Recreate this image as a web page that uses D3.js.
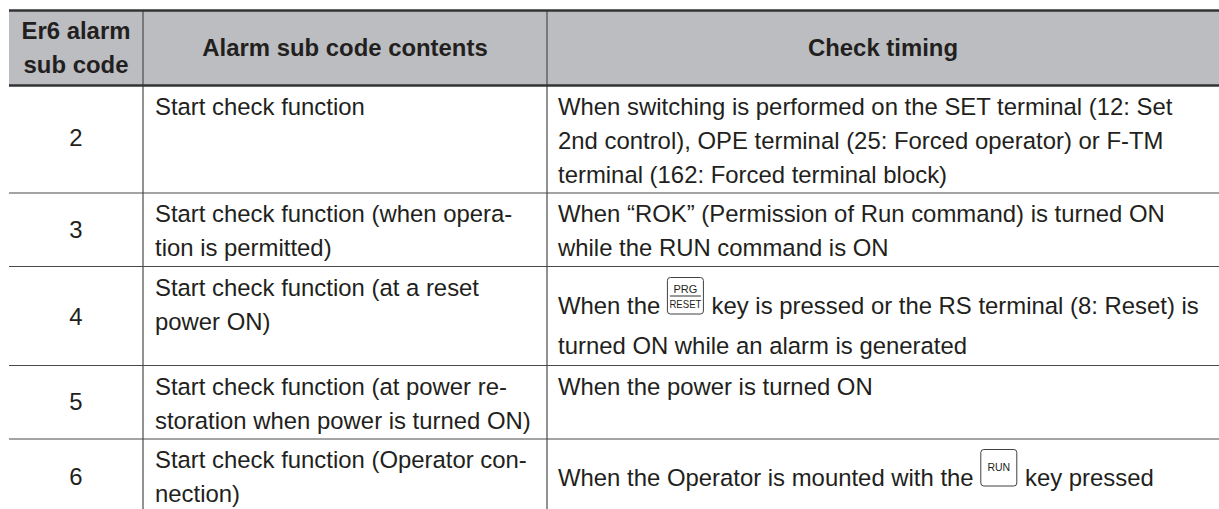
<!DOCTYPE html>
<html>
<head>
<meta charset="utf-8">
<script src="https://cdn.jsdelivr.net/npm/d3@7"></script>
<style>
  html, body { margin: 0; padding: 0; background: #fff; }
  svg { display: block; }
  text { font-family: "Liberation Sans", Arial, sans-serif; fill: #231f20; }
</style>
</head>
<body>
<div id="chart"></div>
<script>
const columns = ["code", "contents", "timing"];
const headers = [["Er6 alarm", "sub code"], ["Alarm sub code contents"], ["Check timing"]];
const codes = ["2", "3", "4", "5", "6"];
const contents = [
  ["Start check function"],
  ["Start check function (when opera-", "tion is permitted)"],
  ["Start check function (at a reset", "power ON)"],
  ["Start check function (at power re-", "storation when power is turned ON)"],
  ["Start check function (Operator con-", "nection)"]
];
const timings = [
  ["When switching is performed on the SET terminal (12: Set", "2nd control), OPE terminal (25: Forced operator) or F-TM", "terminal (162: Forced terminal block)"],
  ["When \u201cROK\u201d (Permission of Run command) is turned ON", "while the RUN command is ON"],
  [["When the ", " key is pressed or the RS terminal (8: Reset) is"], "turned ON while an alarm is generated"],
  ["When the power is turned ON"],
  [["When the Operator is mounted with the ", " key pressed"]]
];
const keyLabels = { 2: ["PRG", "RESET"], 4: ["RUN"] };

const width = 1219, height = 509;
const x = d3.scaleOrdinal().domain([...columns, "end"]).range([9, 143, 547, 1219]);
// each code maps to the bottom rule of its row
const y = d3.scaleOrdinal().domain(["top", "head", ...codes]).range([10.5, 85.5, 193, 266.5, 365.5, 439, 509]);
const fontSize = 23.9;
const firstBase = [115, 222, 296, 395, 468];
const timingBase = [115, 222, 314, 395, 486];
const codeBase = [146, 238, 325, 410, 485];
const lineGap = 34;
const timingGap = [34, 34, 40, 34, 34];

const svg = d3.select("#chart").append("svg")
  .attr("width", width)
  .attr("height", height);

svg.append("rect")
  .attr("x", x("code"))
  .attr("y", y("top"))
  .attr("width", width - x("code"))
  .attr("height", y("head") - y("top"))
  .attr("fill", "#bbbdc0");

// row rules
svg.selectAll("line.row")
  .data(codes.slice(0, -1))
  .join("line")
  .attr("class", "row")
  .attr("x1", x("code"))
  .attr("x2", width)
  .attr("y1", d => y(d))
  .attr("y2", d => y(d))
  .attr("stroke", "#4a4a4c")
  .attr("stroke-width", 1.2);

// column rules
svg.selectAll("line.col")
  .data(["contents", "timing"])
  .join("line")
  .attr("class", "col")
  .attr("x1", d => x(d))
  .attr("x2", d => x(d))
  .attr("y1", y("top"))
  .attr("y2", height)
  .attr("stroke", "#4a4a4c")
  .attr("stroke-width", 1.2);

// header rules
svg.selectAll("line.head")
  .data(["top", "head"])
  .join("line")
  .attr("class", "head")
  .attr("x1", x("code"))
  .attr("x2", width)
  .attr("y1", d => y(d))
  .attr("y2", d => y(d))
  .attr("stroke", "#333335")
  .attr("stroke-width", 2.6);

// headers
headers.forEach((lines, c) => {
  const cx = (x(columns[c]) + x(c < 2 ? columns[c + 1] : "end")) / 2;
  const base = lines.length > 1 ? 39 : 56;
  svg.append("g").selectAll("text")
    .data(lines)
    .join("text")
    .attr("x", cx)
    .attr("y", (d, i) => base + i * 34)
    .attr("text-anchor", "middle")
    .attr("font-size", fontSize)
    .attr("font-weight", "bold")
    .text(d => d);
});

// code column
svg.append("g").selectAll("text")
  .data(codes)
  .join("text")
  .attr("x", (x("code") + x("contents")) / 2)
  .attr("y", (d, i) => codeBase[i])
  .attr("text-anchor", "middle")
  .attr("font-size", fontSize)
  .text(d => d);

// contents column
contents.forEach((lines, r) => {
  svg.append("g").selectAll("text")
    .data(lines)
    .join("text")
    .attr("x", x("contents") + 12)
    .attr("y", (d, i) => firstBase[r] + i * lineGap)
    .attr("font-size", fontSize)
    .text(d => d);
});

function drawKey(px, base, labels) {
  const g = svg.append("g").attr("transform", `translate(${px},${base - 37})`);
  g.append("rect")
    .attr("x", 0.5).attr("y", 0.5)
    .attr("width", 36).attr("height", 36.5)
    .attr("rx", 3)
    .attr("fill", "#fff")
    .attr("stroke", "#414042")
    .attr("stroke-width", 1);
  if (labels.length > 1) {
    g.append("line").attr("x1", 3).attr("x2", 34).attr("y1", 19).attr("y2", 19).attr("stroke", "#333").attr("stroke-width", 1);
    g.append("text").attr("x", 18.5).attr("y", 15.5).attr("text-anchor", "middle").attr("font-size", 11).text(labels[0]);
    g.append("text").attr("x", 18.5).attr("y", 30.5).attr("text-anchor", "middle").attr("font-size", 11)
      .attr("textLength", 32).attr("lengthAdjust", "spacingAndGlyphs").text(labels[1]);
  } else {
    g.append("text").attr("x", 18.5).attr("y", 22).attr("text-anchor", "middle").attr("font-size", 10.5).text(labels[0]);
  }
}

// timing column, array lines carry a key glyph between the two parts
timings.forEach((lines, r) => {
  const tx = x("timing") + 11;
  lines.forEach((line, i) => {
    const base = timingBase[r] + i * timingGap[r];
    if (Array.isArray(line)) {
      const a = svg.append("text").attr("x", tx).attr("y", base).attr("font-size", fontSize)
        .style("white-space", "pre").text(line[0]);
      const ax = tx + a.node().getComputedTextLength();
      drawKey(ax, base, keyLabels[r]);
      svg.append("text").attr("x", ax + 38).attr("y", base).attr("font-size", fontSize)
        .style("white-space", "pre").text(line[1]);
    } else {
      svg.append("text").attr("x", tx).attr("y", base).attr("font-size", fontSize).text(line);
    }
  });
});
</script>
</body>
</html>
